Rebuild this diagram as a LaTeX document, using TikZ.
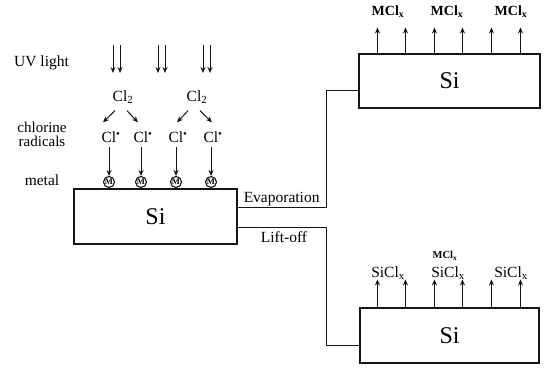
\documentclass[tikz,border=0pt]{standalone}
\usepackage{fontspec}
\setmainfont{Liberation Serif}
\usetikzlibrary{arrows.meta,positioning,calc}
\definecolor{Ink}{RGB}{20,20,20}
\tikzset{
  wafer/.style={draw=Ink,line width=1.1pt,minimum width=163pt,minimum height=55pt,font=\fontsize{24}{26}\selectfont},
  lbl/.style={font=\fontsize{15.5}{17}\selectfont,inner sep=1pt},
  sidelbl/.style={font=\fontsize{15}{14}\selectfont,align=center,inner sep=1pt},
  prod/.style={font=\bfseries\fontsize{14}{16}\selectfont,inner sep=1pt},
  metal/.style={circle,draw=Ink,line width=1.1pt,inner sep=0pt,minimum size=11pt,font=\bfseries\fontsize{8.5}{8.5}\selectfont},
  ray/.style={->,>={Stealth[length=6pt,width=5pt]},draw=Ink,line width=1pt},
  link/.style={draw=Ink,line width=0.9pt}
}
\begin{document}
\begin{tikzpicture}[x=1pt,y=-1pt]
\useasboundingbox (0,0) rectangle (545,367);
% wafers
\node[wafer] (si) at (155.5,216.5) {Si};
\node[wafer,minimum width=181pt,minimum height=54pt] (top) at (449.5,81) {Si};
\node[wafer,minimum width=179pt] (bot) at (449.5,335.5) {Si};

% side labels
\node[lbl,anchor=west] (uv) at (13,63) {UV light};
\node[sidelbl] (rad) at (42,134) {chlorine\\radicals};
\node[lbl] (met) at (42,180) {metal};

% uv light
\foreach \x [count=\i] in {113,158,203}{
  \coordinate (ray\i) at (\x,45);
  \draw[ray] (ray\i) -- ++(0,28);
  \draw[ray] ([xshift=7pt]ray\i) -- ++(0,28);
}

% chlorine
\node[lbl] (cl1) at (123,97) {Cl\textsubscript{2}};
\node[lbl] (cl2) at (197,97) {Cl\textsubscript{2}};
\foreach \x [count=\i] in {109,141,176,211}{
  \node[lbl] (r\i) at (\x+2,137) {Cl\textsuperscript{•}};
  \node[metal] (m\i) at (\x,182) {M};
  \draw[ray,shorten <=3pt] (r\i.south -| m\i) -- (m\i.north);
}
\draw[ray] ($(cl1.south)+(-8,6)$) -- ($(r1.north)+(-8,-8)$);
\draw[ray] ($(cl1.south)+(4,6)$) -- ($(r2.north)+(-5,-8)$);
\draw[ray] ($(cl2.south)+(-9,6)$) -- ($(r3.north)+(-1,-8)$);
\draw[ray] ($(cl2.south)+(3,6)$) -- ($(r4.north)+(-1,-8)$);

% process branches
\draw[link] ([yshift=9.5pt]si.east) -| ([xshift=-32pt,yshift=-9pt]top.west) -- ([yshift=-9pt]top.west);
\draw[link] ([yshift=-10.5pt]si.east) -| ([xshift=-33pt,yshift=-9.5pt]bot.west) -- ([yshift=-9.5pt]bot.west);
\node[lbl,anchor=south west] (evap) at ([xshift=5pt,yshift=9.5pt]si.east) {Evaporation};
\node[lbl] (lift) at (284,237) {Lift-off};

% products
\foreach \d [count=\i] in {19,47,76,104,133,162}{
  \coordinate (up\i) at ([xshift=\d pt,yshift=26pt]top.north west);
  \draw[ray] ([xshift=\d pt]top.north west) -- (up\i);
  \coordinate (dn\i) at ([xshift=\d pt-1pt,yshift=28pt]bot.north west);
  \draw[ray] ([xshift=\d pt-1pt]bot.north west) -- (dn\i);
}
\foreach \x [count=\i] in {388,447,511}{
  \node[prod] (mc\i) at (\x,12) {MCl\textsubscript{x}};
}
\foreach \x [count=\i] in {388,448,511}{
  \node[lbl] (sc\i) at (\x,273) {SiCl\textsubscript{x}};
}
\node[prod,font=\bfseries\fontsize{10.5}{11}\selectfont] (mcs) at (445,256) {MCl\textsubscript{x}};
\end{tikzpicture}
\end{document}
